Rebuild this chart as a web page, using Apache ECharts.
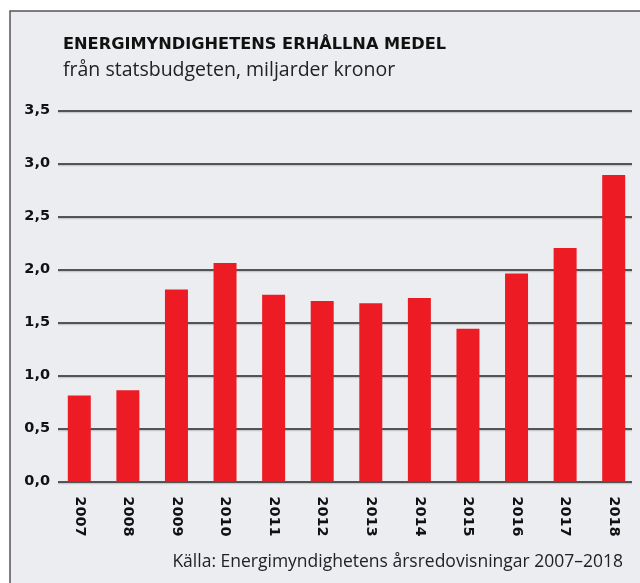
<!DOCTYPE html>
<html lang="sv">
  <head>
    <meta charset="UTF-8" />
    <title>Energimyndigheten</title>
    <script src="https://cdn.jsdelivr.net/npm/echarts@6/dist/echarts.min.js"></script>
    <style>
      html,
      body {
        margin: 0;
        padding: 0;
        background: #fff;
      }
      #chart {
        width: 640px;
        height: 583px;
      }
    </style>
  </head>
  <body>
    <div id="chart"></div>
    <script>
      // data (miljarder kronor)
      const years = ["2007", "2008", "2009", "2010", "2011", "2012", "2013", "2014", "2015", "2016", "2017", "2018"];
      const medel = [0.81, 0.86, 1.81, 2.06, 1.76, 1.70, 1.68, 1.73, 1.44, 1.96, 2.20, 2.89];
      const yTicks = [0, 0.5, 1, 1.5, 2, 2.5, 3, 3.5];

      const titleText = "ENERGIMYNDIGHETENS ERHÅLLNA MEDEL";
      const subText = "från statsbudgeten, miljarder kronor";
      const sourceText = "Källa: Energimyndighetens årsredovisningar 2007–2018";

      const fmt = (v) => v.toFixed(1).replace(".", ",");

      var myChart = echarts.init(document.getElementById("chart"));
      var option = {
        backgroundColor: "#fff",
        animation: false,
        graphic: [
          {
            type: "rect",
            z: -10,
            shape: { x: 10, y: 11, width: 630, height: 572 },
            style: { fill: "#ecedf0" },
          },
          {
            type: "polyline",
            z: -9,
            shape: { points: [[10, 583], [10, 11], [640, 11]] },
            style: { stroke: "#555", lineWidth: 1.5, fill: null },
          },
        ],
        title: [
          {
            text: titleText,
            left: 58,
            top: 32,
            textStyle: { fontFamily: "DejaVu Sans", fontWeight: "bold", fontSize: 16.2, color: "#111" },
          },
          {
            text: subText,
            left: 58,
            top: 55,
            textStyle: { fontFamily: "Open Sans", fontWeight: "normal", fontSize: 19.5, color: "#222" },
          },
          {
            text: sourceText,
            right: 12,
            top: 548,
            textStyle: { fontFamily: "Open Sans", fontWeight: "normal", fontSize: 17.5, color: "#222" },
          },
        ],
        grid: [
          // bars
          { left: 55, right: 2, top: 110.3, bottom: 101.7 },
          // gridlines + y labels
          { left: 58, right: 8, top: 110.3, bottom: 101.7 },
        ],
        xAxis: [
          {
            type: "category",
            gridIndex: 0,
            data: years,
            axisLine: { show: false },
            axisTick: { show: false },
            axisLabel: {
              rotate: -90,
              margin: 15,
              fontFamily: "DejaVu Sans",
              fontWeight: "bold",
              fontSize: 14.5,
              color: "#111",
            },
          },
          { type: "category", gridIndex: 1, data: years, show: false },
        ],
        yAxis: [
          { type: "value", gridIndex: 0, min: 0, max: 3.5, interval: 0.5, show: false },
          {
            type: "value",
            gridIndex: 1,
            min: 0,
            max: 3.5,
            interval: 0.5,
            axisLine: { show: false },
            axisTick: { show: false },
            axisLabel: {
              margin: 8,
              formatter: fmt,
              fontFamily: "DejaVu Sans",
              fontWeight: "bold",
              fontSize: 14.5,
              color: "#111",
            },
            splitLine: {
              show: true,
              lineStyle: { color: "#222", width: 1.5, shadowColor: "rgba(0,0,0,0.15)", shadowOffsetY: 1.5 },
            },
          },
        ],
        series: [
          {
            name: "medel",
            type: "bar",
            xAxisIndex: 0,
            yAxisIndex: 0,
            barWidth: 23,
            z: 3,
            itemStyle: { color: "#ed1c24" },
            data: medel,
          },
        ],
      };
      option && myChart.setOption(option);
    </script>
  </body>
</html>
